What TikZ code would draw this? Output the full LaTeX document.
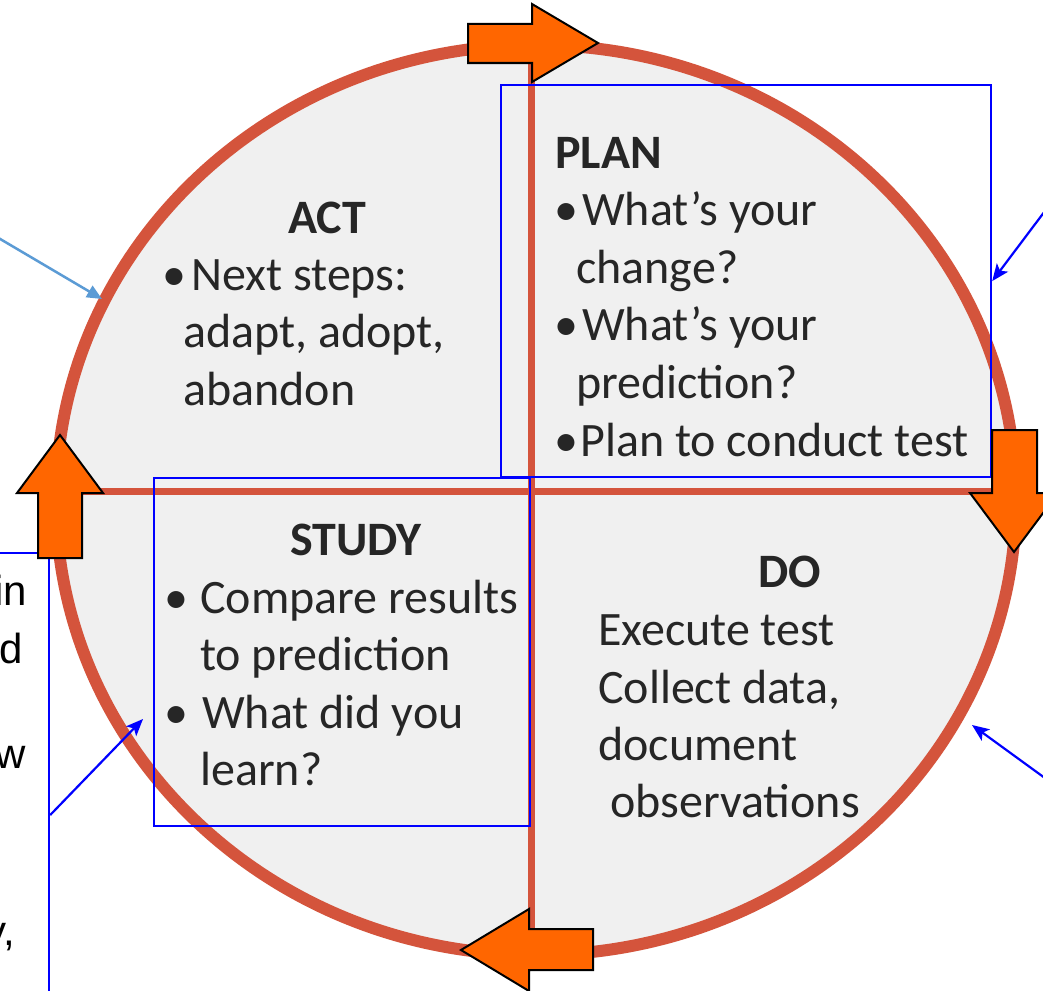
\documentclass[tikz,border=0pt]{standalone}
\usepackage{fontspec}
\setmainfont{Carlito}
\newfontfamily\arialf{Liberation Sans}
\usetikzlibrary{arrows.meta}
\definecolor{ring}{RGB}{212,84,60}
\definecolor{inner}{RGB}{240,240,240}
\definecolor{orng}{RGB}{255,102,0}
\definecolor{txt}{RGB}{38,38,38}
\definecolor{lblue}{RGB}{91,155,213}
\tikzset{
 lbl/.style={inner sep=0pt, anchor=base west, text=txt, font=\fontsize{48}{58}\selectfont},
 ttl/.style={inner sep=0pt, anchor=base, text=txt, font=\fontsize{48}{58}\selectfont\bfseries},
 bigarrow/.style={fill=orng, draw=black, line width=2pt, line join=miter},
 bluebox/.style={draw=blue, line width=2.2pt, inner sep=0pt, anchor=north west},
 callout/.style={draw=blue, line width=2.2pt, -{Stealth[length=17pt,width=14pt,inset=4pt]}},
 lcallout/.style={draw=lblue, line width=2.5pt, -{Triangle[length=15pt,width=13pt]}},
 frag/.style={inner sep=0pt, anchor=base east, text=black, font=\arialf\fontsize{42}{50}\selectfont},
}
\begin{document}
\begin{tikzpicture}[x=1pt,y=-1pt]
\clip (0,0) rectangle (1043,990);
\fill[white] (0,0) rectangle (1043,990);
% ring body
\fill[inner] (536,500) ellipse [x radius=480pt, y radius=455pt];
\begin{scope}
\clip (536,500) ellipse [x radius=480pt, y radius=455pt];
\draw[ring, line width=7pt] (531,0) -- (531,990);
\draw[ring, line width=7pt] (0,491) -- (1043,491);
\end{scope}
\draw[ring, line width=12pt] (536,500) ellipse [x radius=480pt, y radius=455pt];
% blue boxes
\node[bluebox, minimum width=490pt, minimum height=392pt] (planbox) at (500,84) {};
\node[bluebox, minimum width=376pt, minimum height=348pt] (studybox) at (153,477) {};
\node[bluebox, minimum width=70pt, minimum height=460pt] (leftbox) at (-22,552) {};
% left fragments
\node[frag] (f1) at (27,605) {in};
\node[frag] (f2) at (23,663) {d};
\node[frag] (f3) at (26,768) {w};
\node[frag] (f4) at (15,945) {y,};
% ACT
\node[ttl] (acth) at (327,233) {ACT};
\node[lbl] (actb) at (162,290) {•};
\node[lbl] (act1) at (191,290) {Next steps:};
\node[lbl] (act2) at (183,347) {adapt, adopt,};
\node[lbl] (act3) at (183,405) {abandon};
% PLAN
\node[lbl, font=\fontsize{48}{58}\selectfont\bfseries] (planh) at (555,168) {PLAN};
\node[lbl] (planb1) at (554,225) {•};
\node[lbl] (plan1) at (582,225) {What’s your};
\node[lbl] (plan2) at (576,283) {change?};
\node[lbl] (planb2) at (554,340) {•};
\node[lbl] (plan3) at (582,340) {What’s your};
\node[lbl] (plan4) at (576,398) {prediction?};
\node[lbl] (planb3) at (554,456) {•};
\node[lbl] (plan5) at (580,456) {Plan to conduct test};
% STUDY
\node[ttl] (studyh) at (356,555) {STUDY};
\node[lbl] (studyb1) at (164,613) {•};
\node[lbl] (study1) at (200,613) {Compare results};
\node[lbl] (study2) at (200,670) {to prediction};
\node[lbl] (studyb2) at (164,728) {•};
\node[lbl] (study3) at (202,728) {What did you};
\node[lbl] (study4) at (200,785) {learn?};
% DO
\node[ttl] (doh) at (790,587) {DO};
\node[lbl] (do1) at (598,645) {Execute test};
\node[lbl] (do2) at (598,703) {Collect data,};
\node[lbl] (do3) at (598,760) {document};
\node[lbl] (do4) at (610,817) {observations};
% big orange arrows
\draw[bigarrow] (468,24) -- (532,24) -- (532,4) -- (598,43) -- (532,82) -- (532,63) -- (468,63) -- cycle;
\draw[bigarrow] (992,430) -- (1037,430) -- (1037,493) -- (1058,493) -- (1014,552) -- (970,493) -- (992,493) -- cycle;
\draw[bigarrow] (38,558) -- (38,493) -- (17,493) -- (60,435) -- (103,493) -- (82,493) -- (82,558) -- cycle;
\draw[bigarrow] (593,929) -- (529,929) -- (529,909) -- (461,950) -- (529,991) -- (529,970) -- (593,970) -- cycle;
% callouts
\coordinate (la) at (-10,233);
\coordinate (lb) at (102,299);
\draw[lcallout] (la) -- (lb);
\coordinate (pa) at (1060,191);
\draw[callout] (pa) -- (planbox.east);
\coordinate (da) at (1060,789);
\coordinate (db) at (972,725);
\draw[callout] (da) -- (db);
\coordinate (sa) at (leftbox.east |- 0,815);
\coordinate (sb) at (143,719);
\draw[callout] (sa) -- (sb);
\end{tikzpicture}
\end{document}
